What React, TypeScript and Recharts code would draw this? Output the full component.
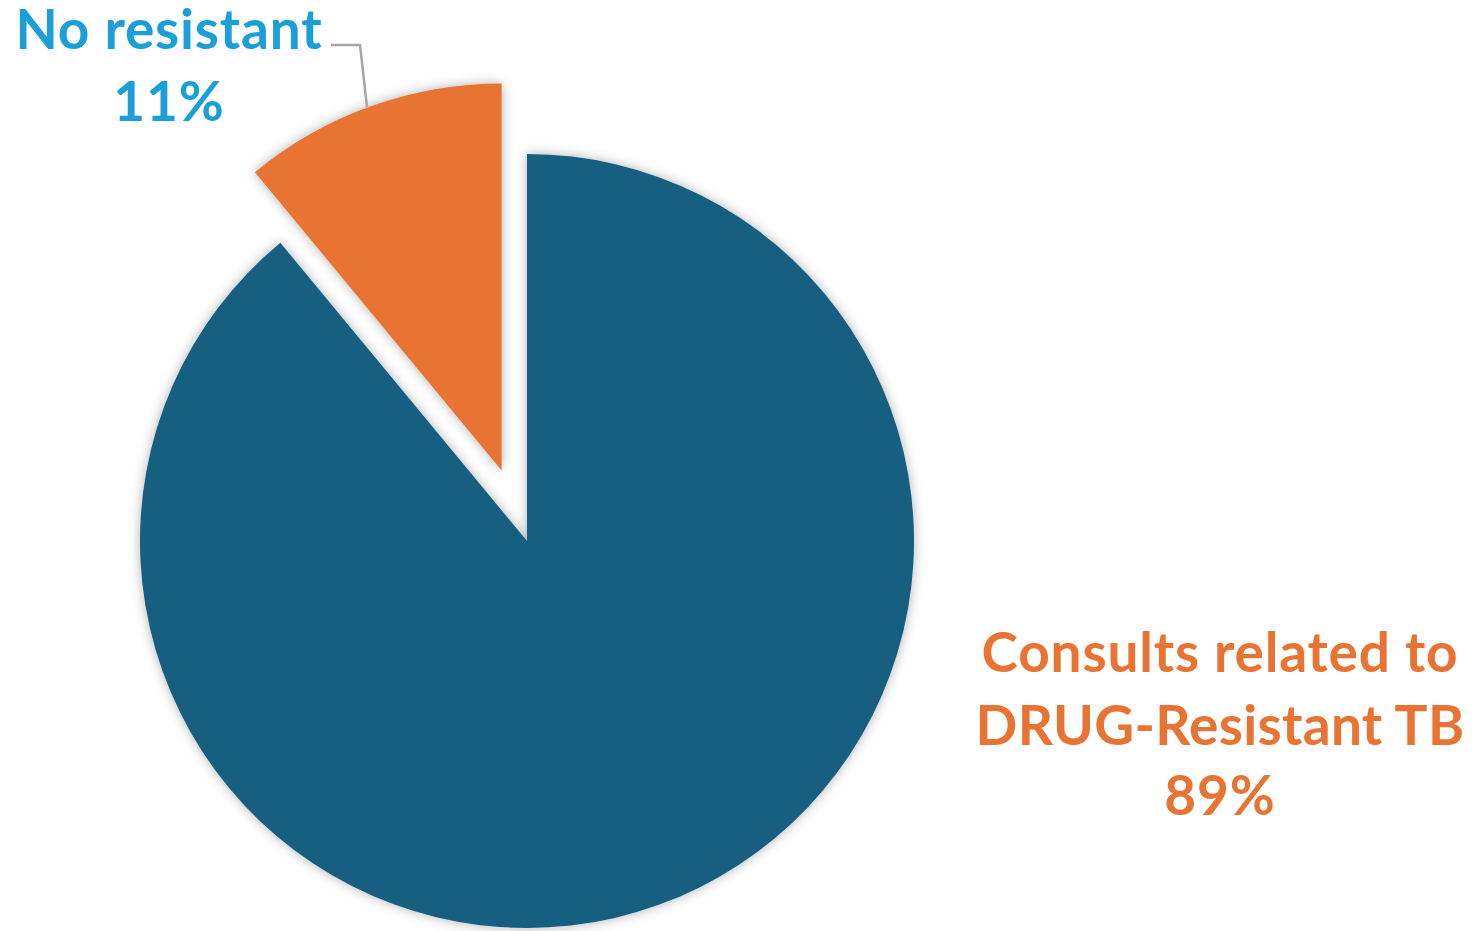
import { PieChart, Pie, Cell } from "recharts"

// slice values, in drawing order (clockwise from 12 o'clock)
const categories = ["Consults related to DRUG-Resistant TB", "No resistant"]
const shares = [89, 11]
const sliceColors = ["#165E80", "#E87332"]
const labelColors = ["#E87332", "#1A9FD9"]

const data = categories.map((name, i) => ({ name, value: shares[i] }))

const CX = 527
const CY = 541
const RADIUS = 387
const EXPLODE = 75
const FONT = "Lato, 'Open Sans', sans-serif"

// mid angle of the exploded slice (recharts angles: 90 = top, clockwise negative)
const total = shares.reduce((a, b) => a + b, 0)
const before = shares[0]
const midDeg = 90 - (360 * (before + shares[1] / 2)) / total
const ox = CX + EXPLODE * Math.cos((midDeg * Math.PI) / 180)
const oy = CY - EXPLODE * Math.sin((midDeg * Math.PI) / 180)

const textStyle = {
  fontFamily: FONT,
  fontWeight: 700,
  fontSize: 55,
  letterSpacing: 0.8,
}

const renderMainLabel = ({ index }: any) => {
  if (index !== 0) return null
  return (
    <text textAnchor="middle" fill={labelColors[0]} style={textStyle}>
      <tspan x={1220} y={672}>Consults related to</tspan>
      <tspan x={1220} y={745} style={{ letterSpacing: 0.3 }}>DRUG-Resistant TB</tspan>
      <tspan x={1220} y={815}>{shares[0]}%</tspan>
    </text>
  )
}

const renderSmallLabel = ({ index }: any) => {
  if (index !== 1) return null
  return (
    <g>
      <polyline
        points="331,45 360,45 367,107"
        fill="none"
        stroke="#A6A6A6"
        strokeWidth={2.5}
      />
      <text textAnchor="middle" fill={labelColors[1]} style={textStyle}>
        <tspan x={169} y={49}>No resistant</tspan>
        <tspan x={169} y={121}>{shares[1]}%</tspan>
      </text>
    </g>
  )
}

export default function App() {
  return (
    <div style={{ position: "absolute", left: 0, top: 0, background: "#fff" }}>
      <PieChart width={1478} height={931} margin={{ top: 0, right: 0, bottom: 0, left: 0 }}>
        <defs>
          <filter id="glow" x="-20%" y="-20%" width="140%" height="140%">
            <feDropShadow dx="0" dy="0" stdDeviation="6" floodColor="#000" floodOpacity="0.3" />
          </filter>
        </defs>
        <Pie
          data={data}
          dataKey="value"
          nameKey="name"
          cx={CX}
          cy={CY}
          outerRadius={RADIUS}
          startAngle={90}
          endAngle={-270}
          stroke="none"
          labelLine={false}
          label={renderMainLabel}
          isAnimationActive={false}
        >
          {data.map((d, i) => (
            <Cell
              key={d.name}
              fill={i === 0 ? sliceColors[0] : "transparent"}
              filter={i === 0 ? "url(#glow)" : undefined}
            />
          ))}
        </Pie>
        <Pie
          data={data}
          dataKey="value"
          nameKey="name"
          cx={ox}
          cy={oy}
          outerRadius={RADIUS}
          startAngle={90}
          endAngle={-270}
          stroke="none"
          labelLine={false}
          label={renderSmallLabel}
          isAnimationActive={false}
        >
          {data.map((d, i) => (
            <Cell
              key={d.name}
              fill={i === 1 ? sliceColors[1] : "transparent"}
              filter={i === 1 ? "url(#glow)" : undefined}
            />
          ))}
        </Pie>
      </PieChart>
    </div>
  )
}
